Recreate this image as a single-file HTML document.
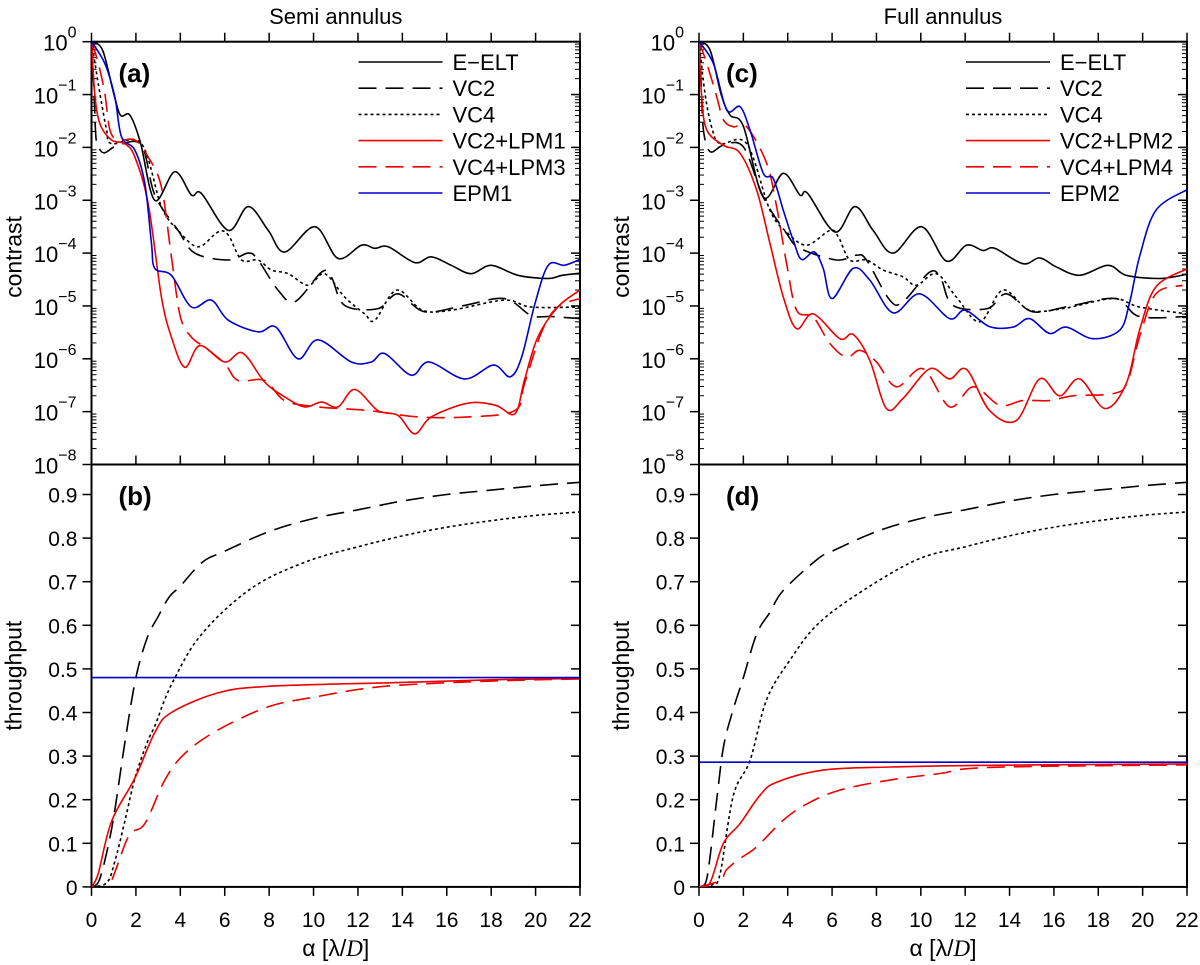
<!DOCTYPE html>
<html><head><meta charset="utf-8"><style>
body{margin:0;background:#fff}
svg{display:block}
text{font-family:"Liberation Sans",sans-serif;fill:#000}
</style></head><body>
<svg id="chart" width="1200" height="965" viewBox="0 0 1200 965"></svg>
<script>
// ---------- DATA ----------
const xTicks=[0,2,4,6,8,10,12,14,16,18,20,22];
const logTicks=[0,-1,-2,-3,-4,-5,-6,-7,-8];
const tpTicks=[0,0.1,0.2,0.3,0.4,0.5,0.6,0.7,0.8,0.9];
// panel (a) contrast, [x, log10(contrast)]
const aELT=[[0,0],[0.5,-0.16],[1,-0.98],[1.3,-1.39],[1.73,-1.39],[2.2,-1.9],[2.85,-3.0],[3.75,-2.46],[4.5,-2.9],[4.95,-2.87],[6.16,-3.57],[7.06,-3.12],[7.96,-3.57],[8.7,-3.98],[10.06,-3.5],[11.1,-4.1],[12.16,-3.85],[12.76,-3.91],[13.36,-3.88],[14.56,-4.18],[15.3,-4.07],[16.2,-4.23],[17.1,-4.39],[18,-4.23],[19.2,-4.42],[20.57,-4.48],[21.2,-4.42],[22,-4.38]];
const aVC2=[[0,0],[0.1,-0.8],[0.2,-1.8],[0.35,-2.02],[0.6,-2.1],[1.2,-1.96],[2.25,-1.96],[2.85,-2.9],[3.9,-3.57],[4.65,-4.0],[6.16,-4.13],[7.06,-4.0],[7.5,-4.13],[8.4,-4.7],[9.16,-4.92],[10.36,-4.36],[10.8,-4.45],[11.4,-4.99],[12.9,-5.05],[13.8,-4.77],[15,-5.11],[16.8,-4.99],[18.6,-4.86],[19.8,-5.18],[20.7,-5.2],[22,-5.24]];
const aVC4=[[0,0],[0.38,-0.98],[0.68,-1.67],[0.9,-1.93],[2.25,-1.93],[3.15,-3.12],[3.9,-3.57],[4.8,-3.88],[5.7,-3.6],[6.16,-3.66],[6.76,-4.13],[7.5,-4.13],[8.1,-4.32],[8.86,-4.39],[9.76,-4.61],[10.5,-4.39],[11.4,-4.83],[12.3,-5.15],[12.76,-5.27],[13.74,-4.7],[14.9,-5.08],[16.2,-5.08],[18.6,-4.89],[19.8,-5.02],[22,-5.02]];
const aVC2LPM=[[0,0],[0.15,-1.0],[0.38,-1.55],[0.9,-1.86],[1.5,-1.93],[1.95,-2.18],[2.55,-3.06],[3.15,-4.83],[3.6,-5.59],[4.2,-6.16],[4.88,-5.75],[6.0,-6.06],[6.8,-5.89],[7.8,-6.44],[8.7,-6.72],[9.6,-6.91],[10.36,-6.82],[11.1,-6.91],[11.86,-6.58],[12.9,-6.98],[13.8,-7.07],[14.56,-7.42],[15.3,-7.1],[16.95,-6.84],[18.2,-6.88],[19.07,-7.04],[19.5,-6.4],[20.1,-5.59],[21.0,-5.02],[22,-4.7]];
const aVC4LPM=[[0,0],[0.3,-0.4],[0.6,-0.98],[0.83,-1.67],[1.2,-1.86],[1.95,-1.86],[2.55,-2.18],[3.15,-2.75],[3.6,-4.07],[4.0,-5.2],[4.5,-5.59],[5.1,-5.78],[6.0,-6.09],[6.6,-6.41],[7.8,-6.41],[8.7,-6.79],[10.2,-6.91],[12.5,-6.98],[14.7,-7.1],[16.95,-7.1],[19.07,-6.98],[19.5,-6.47],[20.3,-5.46],[21.0,-5.02],[22,-4.86]];
const aEPM=[[0,0],[0.6,-0.41],[1.05,-1.04],[1.35,-1.8],[1.95,-2.05],[2.4,-2.68],[2.7,-3.82],[2.85,-4.29],[3.6,-4.42],[4.5,-5.02],[5.4,-4.89],[6.16,-5.27],[7.5,-5.49],[8.3,-5.4],[9.3,-6.0],[10.2,-5.64],[11.7,-6.06],[12.6,-6.06],[13.2,-5.9],[14.4,-6.31],[15.2,-6.06],[16.8,-6.38],[18.1,-6.12],[18.85,-6.34],[19.37,-5.97],[19.97,-4.96],[20.57,-4.23],[21.3,-4.23],[22,-4.12]];
// panel (c)
const cELT=[[0,0],[0.5,-0.16],[1,-1.0],[1.4,-1.39],[2.0,-1.6],[2.9,-2.94],[3.8,-2.49],[4.55,-2.9],[4.9,-2.87],[6.13,-3.6],[7.03,-3.12],[7.85,-3.57],[8.75,-4.0],[10.03,-3.5],[11.15,-4.15],[12.06,-3.85],[12.8,-3.95],[13.33,-3.91],[14.6,-4.2],[15.36,-4.09],[16.1,-4.26],[17.16,-4.42],[18.44,-4.23],[19.26,-4.42],[20.77,-4.48],[22,-4.4]];
const cVC2=[[0,0],[0.1,-0.8],[0.2,-1.67],[0.5,-2.08],[1.1,-1.96],[2.0,-1.99],[2.9,-2.94],[3.95,-3.63],[4.55,-3.91],[6.2,-4.13],[7.1,-4.04],[7.55,-4.13],[8.6,-4.89],[9.2,-4.92],[10.4,-4.36],[10.9,-4.48],[11.45,-4.99],[13.0,-5.05],[13.86,-4.77],[15.06,-5.11],[16.86,-4.99],[18.8,-4.86],[19.86,-5.2],[22,-5.2]];
const cVC4=[[0,0],[0.27,-0.98],[0.57,-1.61],[0.95,-1.93],[2.15,-1.93],[3.2,-3.19],[3.95,-3.6],[4.85,-3.85],[5.9,-3.57],[6.28,-3.69],[6.8,-4.13],[7.55,-4.13],[8.3,-4.32],[9.2,-4.45],[9.8,-4.61],[10.7,-4.39],[11.6,-4.83],[12.66,-5.3],[13.7,-4.7],[14.9,-5.08],[16.4,-5.05],[18.66,-4.86],[19.86,-5.02],[22,-5.15]];
const cVC2LPM=[[0,0],[0.12,-1.04],[0.35,-1.67],[1.1,-1.96],[1.85,-2.11],[2.6,-2.81],[3.2,-3.82],[3.8,-4.83],[4.4,-5.43],[5.15,-5.15],[6.35,-5.62],[6.95,-5.54],[7.7,-6.03],[8.45,-6.94],[9.2,-6.75],[10.4,-6.19],[11.3,-6.38],[12.06,-6.2],[13.1,-6.98],[14.3,-7.17],[15.36,-6.38],[16.26,-6.7],[17.16,-6.38],[18.3,-6.94],[19.26,-6.47],[19.86,-5.46],[20.6,-4.64],[22,-4.3]];
const cVC4LPM=[[0,0],[0.35,-0.41],[0.8,-1.04],[1.1,-1.48],[1.55,-1.61],[2.15,-1.61],[3.05,-2.3],[3.5,-3.12],[3.95,-4.2],[4.4,-5.08],[5.15,-5.21],[5.9,-5.71],[6.65,-5.97],[7.25,-5.84],[8.0,-6.06],[8.9,-6.53],[10.1,-6.19],[11.3,-6.91],[12.36,-6.53],[13.56,-6.88],[14.6,-6.79],[15.8,-6.79],[16.86,-6.7],[18.66,-6.66],[19.3,-6.45],[19.86,-5.59],[20.6,-4.77],[21.8,-4.61]];
const cEPM=[[0,0],[0.65,-0.41],[1.25,-1.29],[1.85,-1.23],[2.3,-1.67],[2.9,-2.49],[3.35,-2.59],[3.8,-3.19],[4.25,-3.76],[4.62,-4.12],[5.2,-3.98],[5.6,-4.29],[6.0,-4.86],[6.95,-4.29],[7.7,-4.51],[8.75,-5.13],[9.95,-4.77],[11.3,-5.24],[12.0,-5.08],[13.1,-5.39],[14.16,-5.4],[14.9,-5.24],[15.8,-5.52],[16.56,-5.4],[17.76,-5.62],[18.96,-5.46],[19.4,-4.96],[19.86,-4.07],[20.6,-3.19],[22,-2.8]];
// panel (b) throughput
const bVC2=[[0,0],[0.3,0.01],[0.6,0.06],[1,0.16],[1.5,0.33],[2,0.48],[2.5,0.57],[3,0.62],[3.5,0.665],[4,0.69],[5,0.745],[6,0.77],[8,0.815],[10,0.845],[12,0.865],[14,0.885],[16,0.9],[18,0.91],[20,0.92],[22,0.928]];
const bVC4=[[0,0],[0.7,0.01],[1.06,0.06],[1.5,0.15],[1.96,0.25],[2.5,0.33],[2.86,0.37],[3.3,0.43],[3.76,0.48],[4.66,0.56],[6,0.635],[7.67,0.7],[9.9,0.75],[12,0.78],[14,0.805],[16,0.825],[18,0.84],[20,0.852],[22,0.86]];
const bVC2LPM=[[0,0],[0.3,0.03],[0.9,0.15],[1.96,0.25],[2.86,0.355],[3.6,0.4],[5.7,0.445],[7.96,0.46],[13.2,0.468],[18,0.475],[22,0.478]];
const bVC4LPM=[[0,0],[0.75,0],[1.66,0.115],[2.4,0.145],[3.3,0.245],[4.2,0.306],[5.7,0.36],[7.96,0.413],[10,0.435],[13.2,0.46],[18,0.472],[22,0.477]];
const bEPM=[[0,0.48],[22,0.48]];
// panel (d)
const dVC2=[[0,0],[0.3,0.01],[0.5,0.07],[0.8,0.2],[1.1,0.32],[1.5,0.4],[2,0.48],[2.6,0.58],[3.2,0.63],[3.8,0.68],[5.3,0.75],[6,0.77],[8,0.815],[10,0.845],[12,0.865],[14,0.885],[16,0.9],[18,0.91],[20,0.92],[22,0.928]];
const dVC4=[[0,0],[0.6,0.005],[0.95,0.03],[1.55,0.21],[2.3,0.29],[3.05,0.43],[4.1,0.52],[5.3,0.6],[7.1,0.67],[9.8,0.75],[12,0.78],[14,0.805],[16,0.825],[18,0.84],[20,0.852],[22,0.86]];
const dVC2LPM=[[0,0],[0.5,0.01],[1.1,0.1],[1.85,0.145],[2.75,0.21],[3.5,0.24],[5.6,0.268],[8.6,0.275],[13.1,0.279],[22,0.282]];
const dVC4LPM=[[0,0],[0.95,0.015],[1.25,0.04],[1.85,0.065],[2.6,0.092],[3.8,0.153],[4.85,0.19],[6.35,0.222],[8.6,0.245],[10.86,0.26],[13.1,0.274],[22,0.28]];
const dEPM=[[0,0.286],[22,0.286]];
const legA=["E\u2212ELT","VC2","VC4","VC2+LPM1","VC4+LPM3","EPM1"];
const legC=["E\u2212ELT","VC2","VC4","VC2+LPM2","VC4+LPM4","EPM2"];

// ---------- DRAW ----------
const NS="http://www.w3.org/2000/svg";
const svg=document.getElementById('chart');
function mk(tag,attrs,parent){const e=document.createElementNS(NS,tag);for(const k in attrs)e.setAttribute(k,attrs[k]);(parent||svg).appendChild(e);return e;}
const TOP=41.7,MID=464.5,BOT=886.9,DEC=52.85,TP=436;
const panels=[{x0:91.5,x1:580},{x0:699,x1:1187}];
const styles={elt:{c:'#000',d:''},vc2:{c:'#000',d:'18,9'},vc4:{c:'#000',d:'3,3'},lpm1:{c:'#e00',d:''},lpm2:{c:'#e00',d:'18,9'},epm:{c:'#00c',d:''}};
function pathFrom(pts,fx,fy){
  const P=pts.map(p=>[fx(p[0]),fy(p[1])]);
  let d='M'+P[0][0].toFixed(1)+','+P[0][1].toFixed(1);
  for(let i=0;i<P.length-1;i++){
    const p0=P[Math.max(0,i-1)],p1=P[i],p2=P[i+1],p3=P[Math.min(P.length-1,i+2)];
    const c1=[p1[0]+(p2[0]-p0[0])/6,p1[1]+(p2[1]-p0[1])/6];
    const c2=[p2[0]-(p3[0]-p1[0])/6,p2[1]-(p3[1]-p1[1])/6];
    d+=' C'+c1[0].toFixed(1)+','+c1[1].toFixed(1)+' '+c2[0].toFixed(1)+','+c2[1].toFixed(1)+' '+p2[0].toFixed(1)+','+p2[1].toFixed(1);
  }
  return d;
}
const defs=mk('defs',{});
panels.forEach((pn,i)=>{
  const fx=v=>pn.x0+(pn.x1-pn.x0)*v/22;
  const ca=mk('clipPath',{id:'clipT'+i},defs);mk('rect',{x:pn.x0,y:TOP,width:pn.x1-pn.x0,height:MID-TOP},ca);
  const cb=mk('clipPath',{id:'clipB'+i},defs);mk('rect',{x:pn.x0,y:MID,width:pn.x1-pn.x0,height:BOT-MID},cb);
  const g=mk('g',{});
  
  
  const cx=(pn.x0+pn.x1)/2;
  const t=mk('text',{x:cx,y:24,'text-anchor':'middle','font-size':22},g);t.textContent=i?'Full annulus':'Semi annulus';
  
  mk('rect',{x:pn.x0,y:TOP,width:pn.x1-pn.x0,height:BOT-TOP,fill:'none',stroke:'#000','stroke-width':2},g);
  mk('line',{x1:pn.x0,x2:pn.x1,y1:MID,y2:MID,stroke:'#000','stroke-width':2},g);
  xTicks.forEach(v=>{const x=fx(v);
    mk('line',{x1:x,x2:x,y1:TOP,y2:TOP-9,stroke:'#000','stroke-width':1.5},g);
    mk('line',{x1:x,x2:x,y1:MID,y2:MID-9,stroke:'#000','stroke-width':1.5},g);
    mk('line',{x1:x,x2:x,y1:BOT,y2:BOT+9,stroke:'#000','stroke-width':1.5},g);
    const tl=mk('text',{x:x,y:927,'text-anchor':'middle','font-size':21},g);tl.textContent=v;
    
  });
  const fyL=l=>TOP-l*DEC;
  logTicks.forEach(l=>{const y=fyL(l);
    mk('line',{x1:pn.x0,x2:pn.x0-9,y1:y,y2:y,stroke:'#000','stroke-width':1.5},g);
    mk('line',{x1:pn.x1,x2:pn.x1-9,y1:y,y2:y,stroke:'#000','stroke-width':1.5},g);
    if(l>-8){for(let m=2;m<10;m++){const ym=fyL(l-1+Math.log10(m));
      mk('line',{x1:pn.x0,x2:pn.x0+5,y1:ym,y2:ym,stroke:'#000','stroke-width':1},g);
      mk('line',{x1:pn.x1,x2:pn.x1-5,y1:ym,y2:ym,stroke:'#000','stroke-width':1},g);}}
    const tl=mk('text',{x:pn.x0-15,y:y+9,'text-anchor':'end','font-size':22},g);
    tl.innerHTML='10<tspan dy="-13" font-size="16">'+(l===0?'0':'\u2212'+(-l))+'</tspan>';
    
  });
  const fyT=v=>BOT-v*TP;
  tpTicks.forEach(v=>{const y=fyT(v);
    mk('line',{x1:pn.x0,x2:pn.x0-9,y1:y,y2:y,stroke:'#000','stroke-width':1.5},g);
    mk('line',{x1:pn.x1,x2:pn.x1-9,y1:y,y2:y,stroke:'#000','stroke-width':1.5},g);
    const tl=mk('text',{x:pn.x0-14,y:y+8,'text-anchor':'end','font-size':21},g);tl.textContent=v===0?'0':v.toFixed(1);
    
  });
  const xl=mk('text',{x:cx,y:956,'text-anchor':'middle','font-size':23},g);
  xl.innerHTML='\u03b1 [\u03bb/<tspan font-family="Liberation Serif" font-style="italic">D</tspan>]';
  
  const yl=mk('text',{x:0,y:0,'text-anchor':'middle','font-size':23,transform:'translate('+(pn.x0-70)+',257) rotate(-90)'},g);yl.textContent='contrast';
  
  const y2=mk('text',{x:0,y:0,'text-anchor':'middle','font-size':23,transform:'translate('+(pn.x0-70)+','+((MID+BOT)/2)+') rotate(-90)'},g);y2.textContent='throughput';
  
  const la=mk('text',{x:pn.x0+27,y:82,'font-size':26,'font-weight':'bold'},g);la.textContent=i?'(c)':'(a)';
  
  const lb=mk('text',{x:pn.x0+27,y:505,'font-size':26,'font-weight':'bold'},g);lb.textContent=i?'(d)':'(b)';
  
  const top=i?[cELT,cVC2,cVC4,cVC2LPM,cVC4LPM,cEPM]:[aELT,aVC2,aVC4,aVC2LPM,aVC4LPM,aEPM];
  const bot=i?[null,dVC2,dVC4,dVC2LPM,dVC4LPM,dEPM]:[null,bVC2,bVC4,bVC2LPM,bVC4LPM,bEPM];
  const st=[styles.elt,styles.vc2,styles.vc4,styles.lpm1,styles.lpm2,styles.epm];
  const names=['eelt','vc2','vc4','vc-lpm-solid','vc-lpm-dashed','epm'];
  const gt=mk('g',{'clip-path':'url(#clipT'+i+')'},g);
  const gb=mk('g',{'clip-path':'url(#clipB'+i+')'},g);
  top.forEach((s,k)=>{const p=mk('path',{d:pathFrom(s,fx,fyL),fill:'none',stroke:st[k].c,'stroke-width':1.6,'stroke-dasharray':st[k].d},gt);
    });
  bot.forEach((s,k)=>{if(!s)return;const p=mk('path',{d:pathFrom(s,fx,fyT),fill:'none',stroke:st[k].c,'stroke-width':1.6,'stroke-dasharray':st[k].d},gb);
    });
  const lg=mk('g',{},g);
  
  const lx=pn.x0+267;
  (i?legC:legA).forEach((n,k)=>{const y=62+k*26.2;
    mk('line',{x1:lx,x2:lx+84,y1:y,y2:y,stroke:st[k].c,'stroke-width':1.6,'stroke-dasharray':st[k].d},lg);
    const t=mk('text',{x:lx+94,y:y+8,'font-size':22},lg);t.textContent=n;
    
  });
});
</script>
</body></html>
